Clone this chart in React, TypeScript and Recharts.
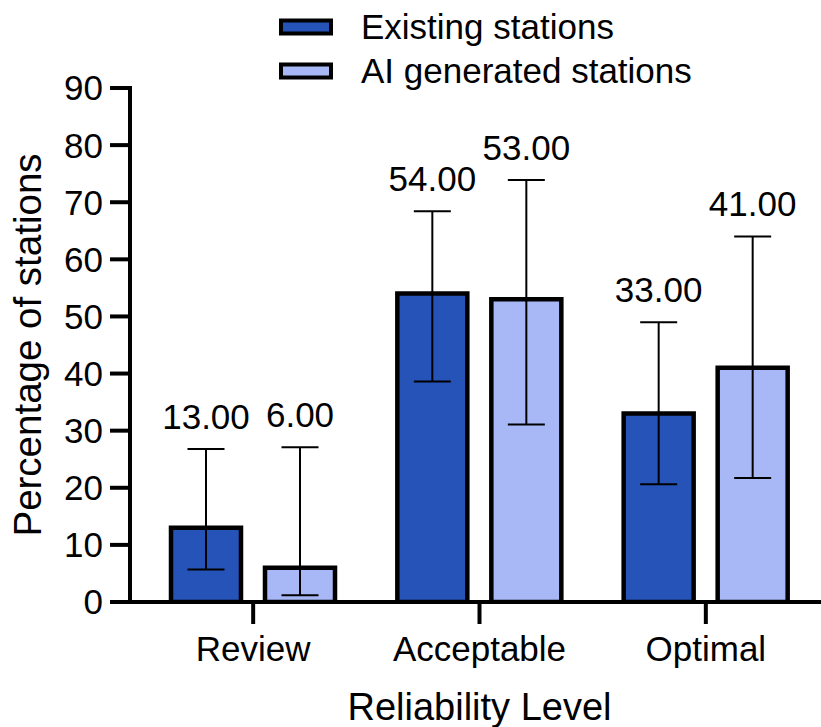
import React from 'react';
import { BarChart, Bar, XAxis, YAxis, ErrorBar, LabelList, Legend } from 'recharts';

const categories = ['Review', 'Acceptable', 'Optimal'];
const existingValues = [13, 54, 33];
const existingLow = [5.7, 38.6, 20.6];
const existingHigh = [26.8, 68.4, 49.0];
const aiValues = [6, 53, 41];
const aiLow = [1.2, 31.1, 21.7];
const aiHigh = [27.1, 73.9, 64.0];
const yTicks = [0, 10, 20, 30, 40, 50, 60, 70, 80, 90];

const seriesNames = ['Existing stations', 'AI generated stations'];
const DARK = '#2653B8';
const LIGHT = '#A8B8F6';
const seriesColors = [DARK, LIGHT];
const FONT = '"Liberation Sans", Arial, sans-serif';

const data = categories.map((c, i) => ({
  category: c,
  existing: existingValues[i],
  existingErr: [existingValues[i] - existingLow[i], existingHigh[i] - existingValues[i]],
  ai: aiValues[i],
  aiErr: [aiValues[i] - aiLow[i], aiHigh[i] - aiValues[i]],
}));

const makeLabel = (values: number[], highs: number[]) => (props: any) => {
  const { x, y, width, height, index } = props;
  const v = values[index];
  const perUnit = Number(height) / v;
  const yHigh = Number(y) + Number(height) - highs[index] * perUnit;
  return (
    <text
      x={Number(x) + Number(width) / 2}
      y={yHigh - 20}
      textAnchor="middle"
      fontSize={35}
      fontFamily={FONT}
      fill="#000"
    >
      {v.toFixed(2)}
    </text>
  );
};

const LegendBox = () => {
  return (
    <svg width={821} height={100} style={{ display: 'block' }}>
      {seriesNames.map((name, i) => {
        const cy = 27 + i * 44;
        return (
          <g key={i}>
            <rect x={281} y={cy - 6.5} width={50} height={13} fill={seriesColors[i]} stroke="#000" strokeWidth={4} />
            <text x={361} y={cy + 12.4} fontSize={35} fontFamily={FONT} fill="#000">
              {name}
            </text>
          </g>
        );
      })}
    </svg>
  );
};

export default function App() {
  return (
    <div style={{ position: 'absolute', left: 0, top: 0, width: 821, height: 727, background: '#fff' }}>
      <BarChart
        width={821}
        height={727}
        data={data}
        margin={{ top: 88, right: 0, bottom: 0, left: 0 }}
        barSize={70}
        barGap={24}
        style={{ fontFamily: FONT }}
      >
        <Legend
          content={<LegendBox />}
          layout="vertical"
          align="center"
          verticalAlign="middle"
          wrapperStyle={{ top: 0, left: 0, width: 821, height: 100 }}
        />
        <XAxis
          dataKey="category"
          height={125}
          padding={{ left: 10, right: 2 }}
          axisLine={{ stroke: '#000', strokeWidth: 4 }}
          tickLine={{ stroke: '#000', strokeWidth: 4 }}
          tickSize={22}
          tickMargin={12}
          tick={{ fill: '#000', fontSize: 35, fontFamily: FONT }}
          label={{
            value: 'Reliability Level',
            position: 'insideBottom',
            offset: 7,
            dx: 4,
            fill: '#000',
            fontSize: 38,
            fontFamily: FONT,
          }}
        />
        <YAxis
          width={130}
          domain={[0, 90]}
          ticks={yTicks}
          interval={0}
          allowDataOverflow
          axisLine={{ stroke: '#000', strokeWidth: 4, strokeLinecap: 'square' }}
          tickLine={{ stroke: '#000', strokeWidth: 4 }}
          tickSize={20}
          tickMargin={7}
          tick={{ fill: '#000', fontSize: 35, fontFamily: FONT }}
          label={{
            value: 'Percentage of stations',
            angle: -90,
            position: 'insideLeft',
            offset: 27,
            fill: '#000',
            fontSize: 38.5,
            fontFamily: FONT,
            style: { textAnchor: 'middle' },
          }}
        />
        <Bar dataKey="existing" name={seriesNames[0]} fill={DARK} stroke="#000" strokeWidth={4.5} isAnimationActive={false}>
          <ErrorBar dataKey="existingErr" width={18.5} strokeWidth={2} stroke="#000" direction="y" />
          <LabelList dataKey="existing" content={makeLabel(existingValues, existingHigh)} />
        </Bar>
        <Bar dataKey="ai" name={seriesNames[1]} fill={LIGHT} stroke="#000" strokeWidth={4.5} isAnimationActive={false}>
          <ErrorBar dataKey="aiErr" width={18.5} strokeWidth={2} stroke="#000" direction="y" />
          <LabelList dataKey="ai" content={makeLabel(aiValues, aiHigh)} />
        </Bar>
      </BarChart>
    </div>
  );
}
